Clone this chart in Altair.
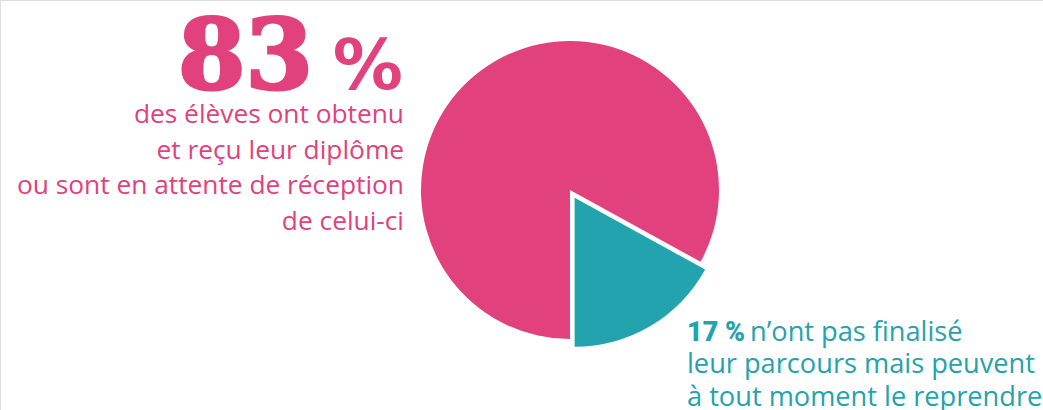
import altair as alt
import pandas as pd

categories = ["Diplômés", "Non finalisé"]
values = [83, 17]
colors = ["#E1417C", "#22A3AD"]

big_number = "83"
big_pct = "%"
left_lines = ["des élèves ont obtenu", "et reçu leur diplôme",
              "ou sont en attente de réception", "de celui-ci"]
teal_bold = "17 %"
teal_first = "n’ont pas finalisé"
teal_lines = ["leur parcours mais peuvent", "à tout moment le reprendre"]

df = pd.DataFrame({"cat": categories, "value": values})

CX, CY, R = 570, 190, 149
EXPLODE = (4.6, 7.8)

base = alt.Chart(df).transform_window(
    cum="sum(value)", frame=[None, 0]
).transform_calculate(start="datum.cum - datum.value")

theta_scale = alt.Scale(domain=[0, 100], range=[3.14159265, 3 * 3.14159265])
color_enc = alt.Color("cat:N", scale=alt.Scale(domain=categories, range=colors), legend=None)

pink = base.transform_filter(alt.datum.cat == categories[0]).mark_arc(radius=R).encode(
    theta=alt.Theta("start:Q", scale=theta_scale),
    theta2="cum:Q",
    color=color_enc,
    x=alt.value(CX), y=alt.value(CY),
)
teal = base.transform_filter(alt.datum.cat == categories[1]).mark_arc(radius=R).encode(
    theta=alt.Theta("start:Q", scale=theta_scale),
    theta2="cum:Q",
    color=color_enc,
    x=alt.value(CX + EXPLODE[0]), y=alt.value(CY + EXPLODE[1]),
)

def txt(text, x, y, size, color, align="left", weight="normal", font="Open Sans",
        lh=None, stroke=None, sw=None):
    kw = dict(align=align, baseline="alphabetic", fontSize=size, font=font,
              fontWeight=weight, color=color)
    if lh:
        kw["lineHeight"] = lh
    if stroke:
        kw["stroke"] = stroke
        kw["strokeWidth"] = sw
    return alt.Chart(df).mark_text(**kw).encode(
        x=alt.value(x), y=alt.value(y), text=alt.value(text)
    ).transform_filter(alt.datum.cat == categories[0])

PINK, TEAL = colors

t1 = txt(big_number, 313, 89, 97, PINK, align="right", weight="bold",
         font="DejaVu Serif", stroke=PINK, sw=3)
t2 = txt(big_pct, 403, 89, 70, PINK, align="right", weight="bold", font="DejaVu Sans")
t3 = txt(left_lines, 404, 123, 26.3, PINK, align="right", lh=35.5)
t4 = txt(teal_bold, 687, 341, 27, TEAL, weight=900, font="Roboto")
t5 = txt(teal_first, 750, 341, 27.2, TEAL)
t6 = txt(teal_lines, 687, 373, 27.2, TEAL, lh=33)

chart = alt.layer(pink, teal, t1, t2, t3, t4, t5, t6).properties(
    width=1043, height=410, padding=0, autosize=alt.AutoSizeParams(type="none")
).configure_view(stroke=None).configure(background="white")

chart.save("out.html", embed_options={"renderer": "svg", "actions": False})
